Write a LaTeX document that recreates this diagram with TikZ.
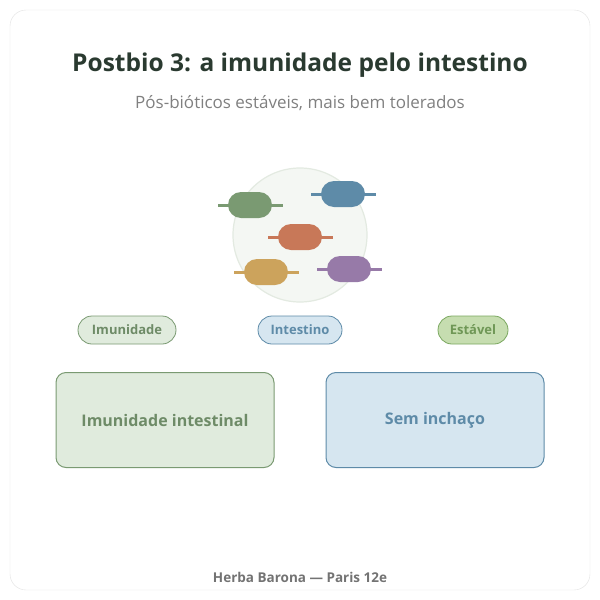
\documentclass[tikz,border=0pt]{standalone}
\usepackage{fontspec}
\setmainfont{Open Sans}
\usetikzlibrary{positioning}
\definecolor{leafgreen}{HTML}{7A9A72}
\definecolor{leafpale}{HTML}{E0EBDD}
\definecolor{seablue}{HTML}{5E8BA8}
\definecolor{seapale}{HTML}{D6E6F0}
\definecolor{grassgreen}{HTML}{7BA860}
\definecolor{grasspale}{HTML}{C6DDB0}
\definecolor{brick}{HTML}{C87858}
\definecolor{ochre}{HTML}{CCA35C}
\definecolor{plum}{HTML}{977AA8}
\definecolor{discfill}{HTML}{F4F7F3}
\definecolor{discedge}{HTML}{E3EAE1}
\definecolor{ink}{HTML}{2A3A30}
\tikzset{%
  pill/.style = {rounded corners=13pt,minimum width=44pt,minimum height=26pt,inner sep=0pt},
  chip/.style = {rounded corners=14pt,minimum height=28pt,draw,line width=0.8pt,
        font=\bfseries\fontsize{13}{15}\selectfont,inner sep=0pt},
  panel/.style = {rounded corners=10pt,minimum width=218pt,minimum height=95pt,draw,
        line width=1pt,font=\bfseries\fontsize{16}{19}\selectfont}
}
\begin{document}
\begin{tikzpicture}[x=1pt,y=-1pt]
  \useasboundingbox (0,0) rectangle (600,600);
  \draw[rounded corners=16pt,draw=black!12,fill=white] (10,10) rectangle (590,590);
  \node[font=\bfseries\fontsize{24.5}{29}\selectfont,text=ink] (title) at (300,65) {Postbio 3: a imunidade pelo intestino};
  \node[font=\fontsize{17}{20}\selectfont,text=black!50] (sub) at (300,103) {Pós-bióticos estáveis, mais bem tolerados};
  % microbes
  \node[circle,draw=discedge,fill=discfill,line width=1.2pt,minimum size=134pt] (disc) at (300,235) {};
  \foreach \cx/\cy/\col [count=\i] in {250/205/leafgreen,343/194/seablue,300/237/brick,266/272/ochre,349/269/plum}{
    \draw[\col,line width=3pt] (\cx-32,\cy) -- (\cx+33,\cy);
    \node[pill,fill=\col] (bug\i) at (\cx,\cy) {};
  }
  % chips
  \node[chip,fill=leafpale,draw=leafgreen,text=leafgreen!90!black,minimum width=98pt] (immune) at (127,330) {Imunidade};
  \node[chip,fill=seapale,draw=seablue,text=seablue,minimum width=84pt] (gut) at (300,330) {Intestino};
  \node[chip,fill=grasspale,draw=grassgreen,text=grassgreen!90!black,minimum width=70pt] (stable) at (473,330) {Estável};
  % panels
  \node[panel,fill=leafpale,draw=leafgreen,text=leafgreen!90!black] (left) at (165,420) {Imunidade intestinal};
  \node[panel,fill=seapale,draw=seablue,text=seablue] (right) at (435,420) {Sem inchaço};
  \node[font=\bfseries\fontsize{13.5}{16}\selectfont,text=black!55] (foot) at (300,577) {Herba Barona — Paris 12e};
\end{tikzpicture}
\end{document}
